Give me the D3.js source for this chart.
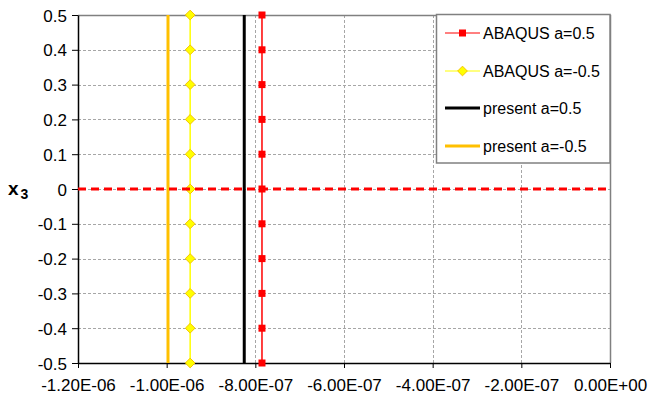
<!DOCTYPE html>
<html>
<head>
<meta charset="utf-8">
<script src="https://cdn.jsdelivr.net/npm/d3@7"></script>
<style>
  html, body { margin: 0; padding: 0; background: #fff; }
  svg { display: block; font-family: "Liberation Sans", Arial, sans-serif; }
</style>
</head>
<body>
<svg id="chart" width="648" height="399"></svg>
<script>
// Through-thickness coordinate x3 at which each profile is sampled
const x3Values = [-0.5, -0.4, -0.3, -0.2, -0.1, 0, 0.1, 0.2, 0.3, 0.4, 0.5];

// Series values (horizontal axis) at each x3
const abaqusPos  = [-7.85e-7, -7.85e-7, -7.85e-7, -7.85e-7, -7.85e-7, -7.85e-7, -7.85e-7, -7.85e-7, -7.85e-7, -7.85e-7, -7.85e-7];
const abaqusNeg  = [-9.47e-7, -9.47e-7, -9.47e-7, -9.47e-7, -9.47e-7, -9.47e-7, -9.47e-7, -9.47e-7, -9.47e-7, -9.47e-7, -9.47e-7];
const presentPos = [-8.25e-7, -8.25e-7, -8.25e-7, -8.25e-7, -8.25e-7, -8.25e-7, -8.25e-7, -8.25e-7, -8.25e-7, -8.25e-7, -8.25e-7];
const presentNeg = [-9.97e-7, -9.97e-7, -9.97e-7, -9.97e-7, -9.97e-7, -9.97e-7, -9.97e-7, -9.97e-7, -9.97e-7, -9.97e-7, -9.97e-7];

// Mid-plane reference line x3 = 0
const midplaneX  = [-1.2e-6, 0];
const midplaneX3 = [0, 0];

// Axis ticks and their labels
const xTicks      = [-1.2e-6, -1.0e-6, -8.0e-7, -6.0e-7, -4.0e-7, -2.0e-7, 0];
const xTickLabels = ["-1.20E-06", "-1.00E-06", "-8.00E-07", "-6.00E-07", "-4.00E-07", "-2.00E-07", "0.00E+00"];
const yTicks      = [0.5, 0.4, 0.3, 0.2, 0.1, 0, -0.1, -0.2, -0.3, -0.4, -0.5];
const yTickLabels = ["0.5", "0.4", "0.3", "0.2", "0.1", "0", "-0.1", "-0.2", "-0.3", "-0.4", "-0.5"];

const seriesNames = ["ABAQUS a=0.5", "ABAQUS a=-0.5", "present a=0.5", "present a=-0.5"];

const svg = d3.select("#chart");
const plot = { left: 78, right: 610, top: 15, bottom: 363 };

const x = d3.scaleLinear().domain([-1.2e-6, 0]).range([plot.left, plot.right]);
const y = d3.scaleLinear().domain([-0.5, 0.5]).range([plot.bottom, plot.top]);

// Gridlines
const grid = svg.append("g").attr("stroke", "#a6a6a6").attr("stroke-width", 1).attr("stroke-dasharray", "3,2");
grid.selectAll("line.v").data(xTicks.slice(1, -1)).join("line")
  .attr("x1", d => Math.round(x(d)) + 0.5).attr("x2", d => Math.round(x(d)) + 0.5)
  .attr("y1", plot.top).attr("y2", plot.bottom);
grid.selectAll("line.h").data(yTicks.slice(1, -1)).join("line")
  .attr("x1", plot.left).attr("x2", plot.right)
  .attr("y1", d => Math.round(y(d)) + 0.5).attr("y2", d => Math.round(y(d)) + 0.5);

// Plot frame (top and right)
svg.append("path")
  .attr("d", `M${plot.left},${plot.top + 0.5}H${plot.right + 0.5}V${plot.bottom}`)
  .attr("fill", "none").attr("stroke", "#808080").attr("stroke-width", 1.5);

// Axes
const xAxis = d3.axisBottom(x).tickValues(xTicks).tickSize(5).tickSizeOuter(0)
  .tickFormat((d, i) => xTickLabels[i]);
const yAxis = d3.axisLeft(y).tickValues(yTicks).tickSize(6).tickSizeOuter(0)
  .tickFormat((d, i) => yTickLabels[i]);

const gx = svg.append("g").attr("transform", `translate(0,${plot.bottom})`).call(xAxis);
const gy = svg.append("g").attr("transform", `translate(${plot.left},0)`).call(yAxis);
[gx, gy].forEach(g => {
  g.select(".domain").attr("stroke", "#000").attr("stroke-width", 1.5);
  g.selectAll(".tick line").attr("stroke", "#000");
  g.selectAll(".tick text").attr("fill", "#000").attr("font-size", 17)
    .attr("font-family", "Liberation Sans, Arial, sans-serif");
});
gx.selectAll(".tick text").attr("dy", "1.15em");
gy.selectAll(".tick text").attr("x", -11).attr("dy", "0.36em");

// Axis title x3
const yTitle = svg.append("text").attr("x", 8).attr("y", 195)
  .attr("font-size", 19).attr("font-weight", "bold").attr("fill", "#000");
yTitle.append("tspan").text("x");
yTitle.append("tspan").attr("font-size", 14).attr("dy", 4).attr("dx", 2).text("3");

const line = d3.line().x(d => x(d[0])).y(d => y(d[1]));
const zip = (xs, ys) => xs.map((v, i) => [v, ys[i]]);

// present a=-0.5
svg.append("path").datum(zip(presentNeg, x3Values)).attr("d", line)
  .attr("fill", "none").attr("stroke", "#ffc000").attr("stroke-width", 3);

// ABAQUS a=-0.5
svg.append("path").datum(zip(abaqusNeg, x3Values)).attr("d", line)
  .attr("fill", "none").attr("stroke", "#ffff00").attr("stroke-width", 1.5);
const diamond = d3.symbol().type(d3.symbolDiamond2).size(60);
svg.append("g").selectAll("path").data(zip(abaqusNeg, x3Values)).join("path")
  .attr("d", diamond)
  .attr("transform", d => `translate(${x(d[0])},${y(d[1])})`)
  .attr("fill", "#ffff00").attr("stroke", "#f5c400").attr("stroke-width", 1);

// present a=0.5
svg.append("path").datum(zip(presentPos, x3Values)).attr("d", line)
  .attr("fill", "none").attr("stroke", "#000").attr("stroke-width", 3);

// ABAQUS a=0.5
svg.append("path").datum(zip(abaqusPos, x3Values)).attr("d", line)
  .attr("fill", "none").attr("stroke", "#ff0000").attr("stroke-width", 1.5);
svg.append("g").selectAll("rect").data(zip(abaqusPos, x3Values)).join("rect")
  .attr("x", d => x(d[0]) - 3.5).attr("y", d => y(d[1]) - 3.5)
  .attr("width", 7).attr("height", 7).attr("fill", "#ff0000");

// Mid-plane line
svg.append("path").datum(zip(midplaneX, midplaneX3)).attr("d", line)
  .attr("fill", "none").attr("stroke", "#ff0000").attr("stroke-width", 3)
  .attr("stroke-dasharray", "8,5");

// Legend
const legend = svg.append("g");
legend.append("rect").attr("x", 436.5).attr("y", 14.5).attr("width", 173.5).attr("height", 148.5)
  .attr("fill", "#fff").attr("stroke", "#808080").attr("stroke-width", 1.5);
const rowsY = [33, 71, 108, 146];
const sx1 = 445, sx2 = 480;
// ABAQUS a=0.5
legend.append("line").attr("x1", sx1).attr("x2", sx2).attr("y1", rowsY[0]).attr("y2", rowsY[0])
  .attr("stroke", "#ff0000").attr("stroke-width", 1);
legend.append("rect").attr("x", (sx1 + sx2) / 2 - 3.5).attr("y", rowsY[0] - 3.5)
  .attr("width", 7).attr("height", 7).attr("fill", "#ff0000");
// ABAQUS a=-0.5
legend.append("line").attr("x1", sx1).attr("x2", sx2).attr("y1", rowsY[1]).attr("y2", rowsY[1])
  .attr("stroke", "#ffff00").attr("stroke-width", 1);
legend.append("path").attr("d", diamond)
  .attr("transform", `translate(${(sx1 + sx2) / 2},${rowsY[1]})`)
  .attr("fill", "#ffff00").attr("stroke", "#f5c400").attr("stroke-width", 1);
// present a=0.5
legend.append("line").attr("x1", sx1).attr("x2", sx2).attr("y1", rowsY[2]).attr("y2", rowsY[2])
  .attr("stroke", "#000").attr("stroke-width", 3);
// present a=-0.5
legend.append("line").attr("x1", sx1).attr("x2", sx2).attr("y1", rowsY[3]).attr("y2", rowsY[3])
  .attr("stroke", "#ffc000").attr("stroke-width", 3);

legend.selectAll("text").data(seriesNames).join("text")
  .attr("x", 483).attr("y", (d, i) => rowsY[i] + 6)
  .attr("font-size", 16).attr("fill", "#000").text(d => d);
</script>
</body>
</html>
